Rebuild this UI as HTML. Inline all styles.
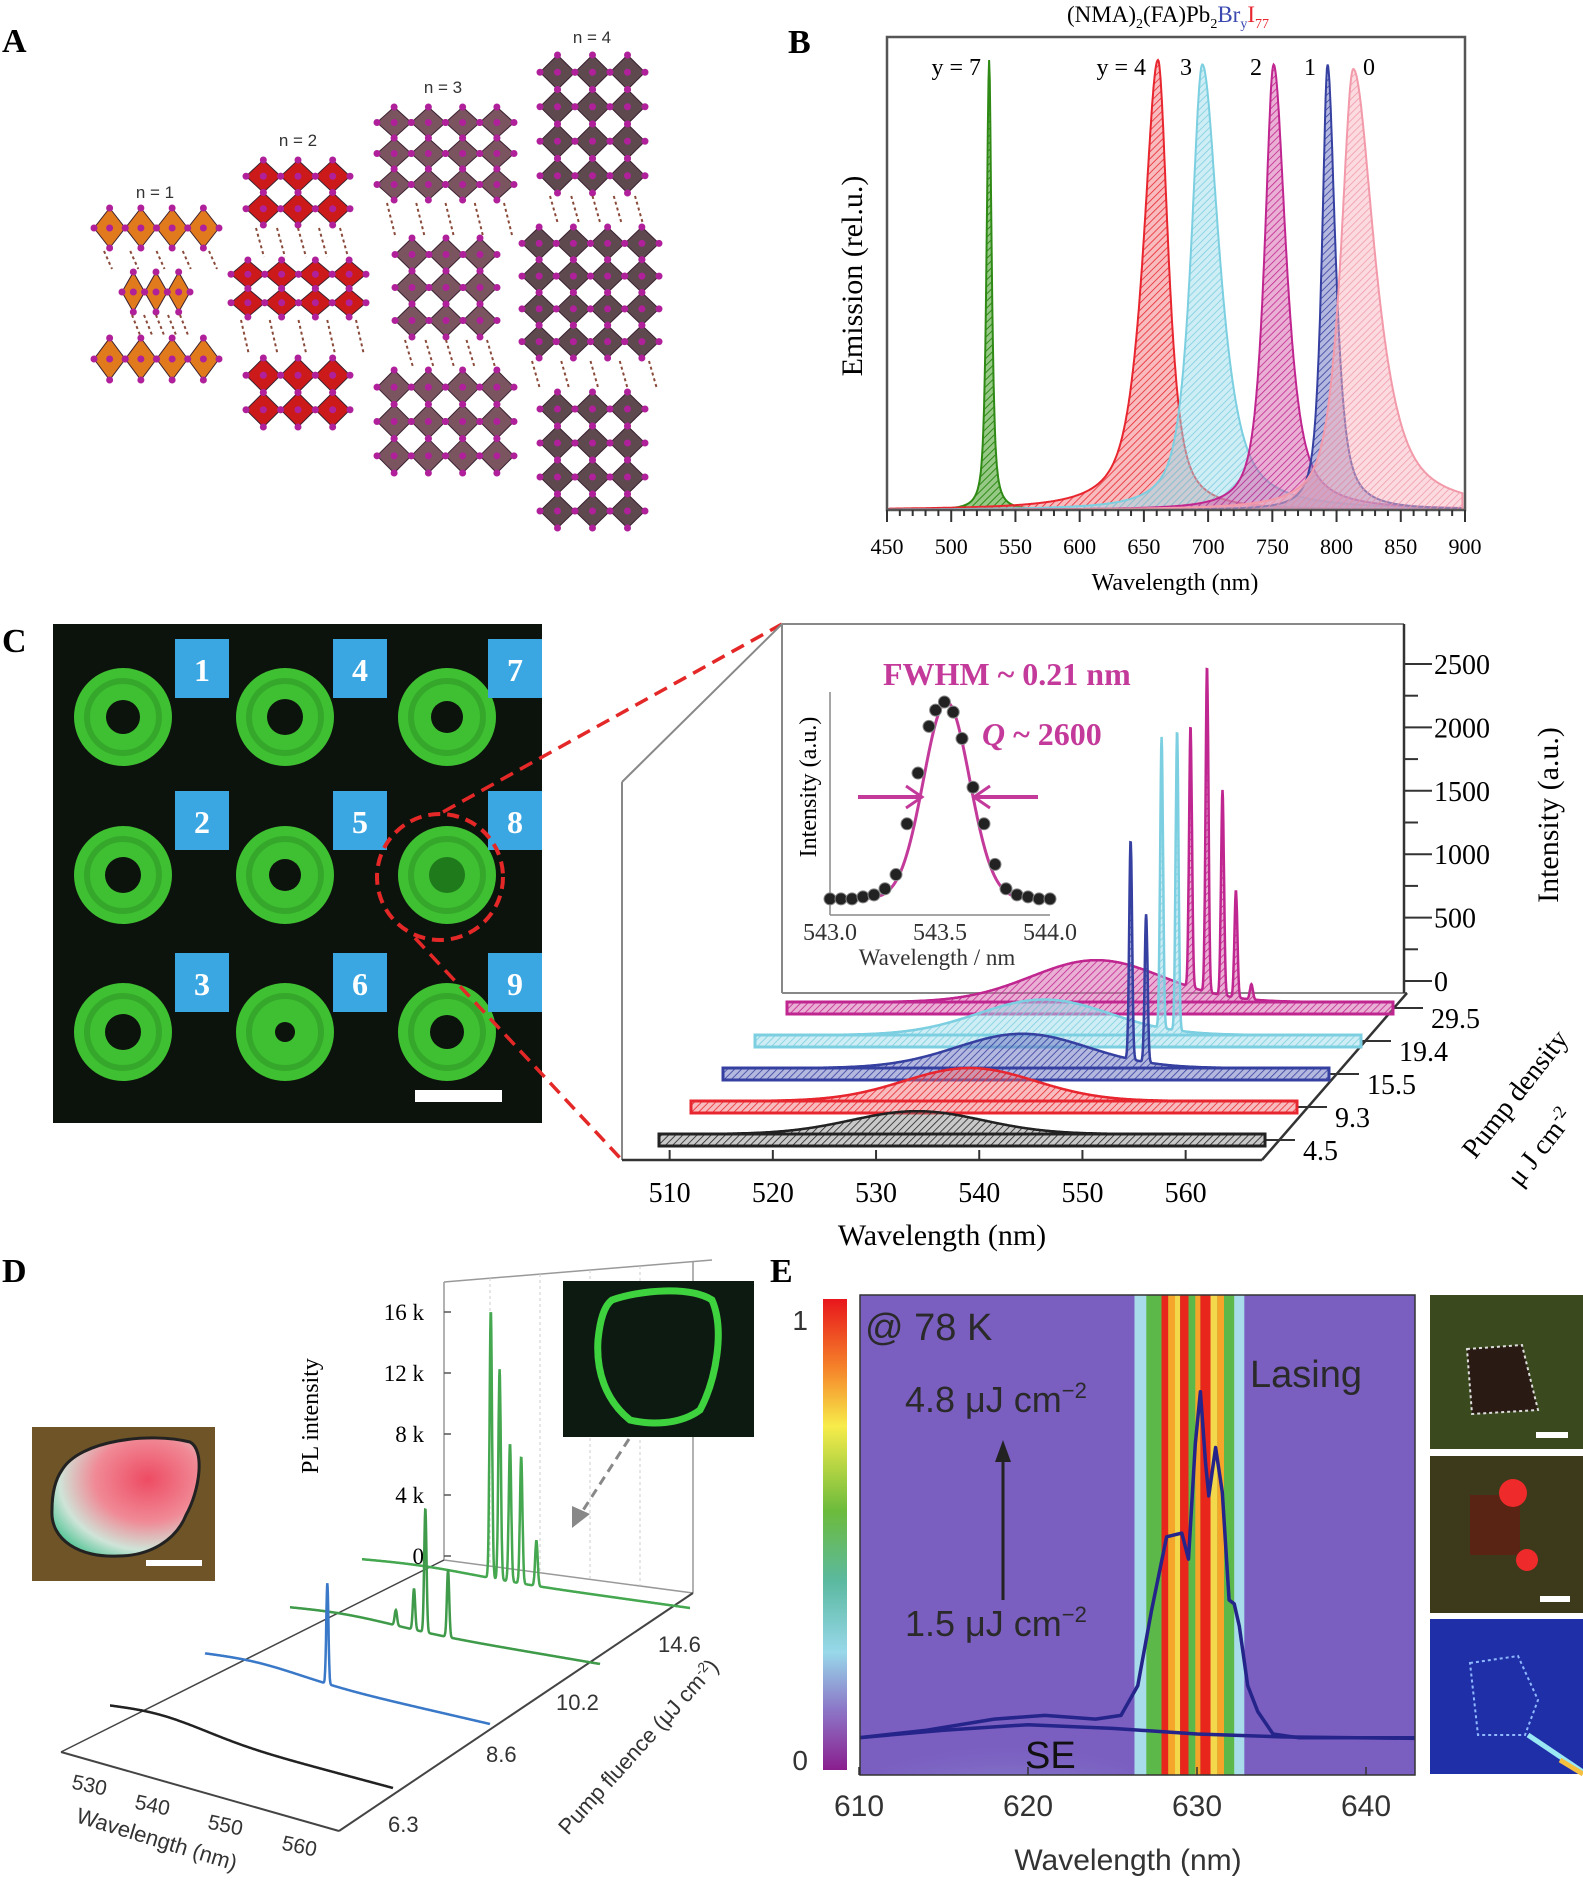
<!DOCTYPE html>
<html><head><meta charset="utf-8">
<style>
html,body{margin:0;padding:0;background:#fff;}
svg{display:block;}
.serif{font-family:"Liberation Serif",serif;}
.sans{font-family:"Liberation Sans",sans-serif;}
</style></head>
<body>
<svg id="fig" width="1583" height="1885" viewBox="0 0 1583 1885" xmlns="http://www.w3.org/2000/svg">
<defs>
  <pattern id="pat-g" width="5" height="5" patternUnits="userSpaceOnUse" patternTransform="rotate(45)"><rect width="5" height="5" fill="#3f9b22" opacity="0.55"/><line x1="0" y1="0" x2="0" y2="5" stroke="#2f8a15" stroke-width="2"/></pattern>
  <pattern id="pat-r" width="5" height="5" patternUnits="userSpaceOnUse" patternTransform="rotate(45)"><rect width="5" height="5" fill="#f06b70" opacity="0.45"/><line x1="0" y1="0" x2="0" y2="5" stroke="#e8262f" stroke-width="1.6"/></pattern>
  <pattern id="pat-c" width="5" height="5" patternUnits="userSpaceOnUse" patternTransform="rotate(45)"><rect width="5" height="5" fill="#9fdcea" opacity="0.5"/><line x1="0" y1="0" x2="0" y2="5" stroke="#7ccfe0" stroke-width="1.6"/></pattern>
  <pattern id="pat-m" width="5" height="5" patternUnits="userSpaceOnUse" patternTransform="rotate(45)"><rect width="5" height="5" fill="#d560aa" opacity="0.5"/><line x1="0" y1="0" x2="0" y2="5" stroke="#c0268f" stroke-width="1.6"/></pattern>
  <pattern id="pat-b" width="5" height="5" patternUnits="userSpaceOnUse" patternTransform="rotate(45)"><rect width="5" height="5" fill="#6a72c0" opacity="0.5"/><line x1="0" y1="0" x2="0" y2="5" stroke="#3540a0" stroke-width="1.6"/></pattern>
  <pattern id="pat-p" width="5" height="5" patternUnits="userSpaceOnUse" patternTransform="rotate(45)"><rect width="5" height="5" fill="#f7b8c2" opacity="0.5"/><line x1="0" y1="0" x2="0" y2="5" stroke="#f29aaa" stroke-width="1.6"/></pattern>
  <pattern id="pat-k" width="5" height="5" patternUnits="userSpaceOnUse" patternTransform="rotate(45)"><rect width="5" height="5" fill="#777" opacity="0.4"/><line x1="0" y1="0" x2="0" y2="5" stroke="#222" stroke-width="1.6"/></pattern>
  <linearGradient id="cbar" x1="0" y1="0" x2="0" y2="1">
    <stop offset="0" stop-color="#e8161c"/><stop offset="0.15" stop-color="#f5862a"/><stop offset="0.27" stop-color="#f7ec4a"/>
    <stop offset="0.45" stop-color="#6cbb3c"/><stop offset="0.6" stop-color="#5bb9a0"/><stop offset="0.75" stop-color="#98d8ea"/>
    <stop offset="0.87" stop-color="#8c78c8"/><stop offset="1" stop-color="#8a1e8e"/>
  </linearGradient>
  <radialGradient id="glow" cx="0.5" cy="1" r="0.7">
    <stop offset="0" stop-color="#bfe8f2"/><stop offset="0.6" stop-color="#a9d6ee" stop-opacity="0.7"/><stop offset="1" stop-color="#7a5ec0" stop-opacity="0"/>
  </radialGradient>
  <radialGradient id="blob" cx="0.65" cy="0.35" r="0.8">
    <stop offset="0" stop-color="#ee4b63"/><stop offset="0.45" stop-color="#f08a96"/><stop offset="0.75" stop-color="#cfe4d8"/><stop offset="1" stop-color="#3dbf8a"/>
  </radialGradient>
</defs>

<g id="panelA">
  <text x="2" y="52" class="serif" font-size="34" font-weight="bold">A</text>
  <g id="structs"></g>
</g>

<g id="panelB">
  <text x="788" y="53" class="serif" font-size="34" font-weight="bold">B</text>
  <text x="1067" y="22" class="serif" font-size="23">(NMA)<tspan font-size="14" dy="6">2</tspan><tspan dy="-6">(FA)Pb</tspan><tspan font-size="14" dy="6">2</tspan><tspan dy="-6" fill="#3a48b0">Br</tspan><tspan font-size="14" dy="6" fill="#3a48b0">y</tspan><tspan dy="-6" fill="#e8262f">I</tspan><tspan font-size="14" dy="6" fill="#e8262f">77</tspan></text>
  <g id="bcurves"></g>
  <rect x="887" y="37" width="578" height="473" fill="none" stroke="#555" stroke-width="2.5"/>
  <g id="baxis"></g>
  <text x="1175" y="590" text-anchor="middle" class="serif" font-size="24">Wavelength (nm)</text>
  <text transform="translate(862,276) rotate(-90)" text-anchor="middle" class="serif" font-size="30">Emission (rel.u.)</text>
  <g class="serif" font-size="24">
    <text x="981" y="75" text-anchor="end">y = 7</text>
    <text x="1146" y="75" text-anchor="end">y = 4</text>
    <text x="1192" y="75" text-anchor="end">3</text>
    <text x="1262" y="75" text-anchor="end">2</text>
    <text x="1316" y="75" text-anchor="end">1</text>
    <text x="1363" y="75">0</text>
  </g>
</g>

<g id="panelC">
  <text x="2" y="652" class="serif" font-size="34" font-weight="bold">C</text>
  <rect x="53" y="624" width="489" height="499" fill="#0c130c"/>
  <g id="rings"></g>
  <rect x="415" y="1090" width="87" height="12" fill="#fff"/>
  <circle cx="440" cy="877" r="63" fill="none" stroke="#e42828" stroke-width="4" stroke-dasharray="12 7"/>
  <line x1="443" y1="812" x2="782" y2="624" stroke="#e42828" stroke-width="3.5" stroke-dasharray="14 8"/>
  <line x1="415" y1="938" x2="622" y2="1160" stroke="#e42828" stroke-width="3.5" stroke-dasharray="14 8"/>
  <g stroke="#888" stroke-width="2" fill="none">
    <line x1="782" y1="624" x2="1404" y2="624"/>
    <line x1="782" y1="624" x2="782" y2="993"/>
    <line x1="782" y1="624" x2="622" y2="782"/>
    <line x1="622" y1="782" x2="622" y2="1160"/>
    <line x1="782" y1="993" x2="1407" y2="993"/>
  </g>
  <line x1="622" y1="1160" x2="1262" y2="1160" stroke="#333" stroke-width="2.5"/>
  <line x1="1262" y1="1160" x2="1407" y2="993" stroke="#333" stroke-width="2.5"/>
  <line x1="1404" y1="624" x2="1404" y2="993" stroke="#333" stroke-width="2.5"/>
  <g id="caxis"></g>
  <g id="ccurves"></g>
  <g id="cinset"></g>
  <text x="942" y="1245" text-anchor="middle" class="serif" font-size="30">Wavelength (nm)</text>
  <text transform="translate(1558,815) rotate(-90)" text-anchor="middle" class="serif" font-size="30">Intensity (a.u.)</text>
  <text transform="translate(1475,1160) rotate(-52)" class="serif" font-size="28">Pump density</text>
  <text transform="translate(1520,1188) rotate(-52)" class="serif" font-size="28">μ J cm<tspan font-size="18" dy="-10">-2</tspan></text>
</g>

<g id="panelD">
  <text x="2" y="1282" class="serif" font-size="34" font-weight="bold">D</text>
  <rect x="32" y="1427" width="183" height="154" fill="#6e5426"/>
  <path d="M62,1470 C80,1440 150,1432 190,1442 C205,1450 200,1490 186,1515 C176,1540 150,1556 118,1556 C80,1558 50,1540 52,1510 C52,1495 55,1480 62,1470 Z" fill="url(#blob)" stroke="#222" stroke-width="3"/>
  <rect x="146" y="1560" width="56" height="6" fill="#fff"/>
  <g stroke="#999" stroke-width="1.5" fill="none">
    <line x1="444" y1="1282" x2="712" y2="1260"/>
    <line x1="444" y1="1282" x2="444" y2="1560"/>
    <line x1="693" y1="1262" x2="693" y2="1593"/>
    <line x1="444" y1="1560" x2="693" y2="1593"/>
  </g>
  <g stroke="#ccc" stroke-width="1" stroke-dasharray="3 3" fill="none">
    <line x1="490" y1="1278" x2="490" y2="1566"/><line x1="540" y1="1274" x2="540" y2="1573"/>
    <line x1="590" y1="1270" x2="590" y2="1579"/><line x1="640" y1="1266" x2="640" y2="1586"/>
  </g>
  <line x1="61" y1="1752" x2="444" y2="1560" stroke="#444" stroke-width="1.5"/>
  <line x1="61" y1="1752" x2="339" y2="1831" stroke="#444" stroke-width="2"/>
  <line x1="339" y1="1831" x2="693" y2="1593" stroke="#444" stroke-width="2"/>
  <g id="daxis"></g>
  <g id="dcurves"></g>
  <rect x="563" y="1281" width="191" height="156" fill="#0d1a12"/>
  <path d="M612,1300 C640,1290 690,1286 712,1300 C725,1330 716,1380 700,1410 C680,1425 650,1425 630,1420 C605,1400 596,1370 598,1340 C600,1320 604,1306 612,1300 Z" fill="none" stroke="#3fd23f" stroke-width="7"/>
  <line x1="629" y1="1439" x2="580" y2="1515" stroke="#888" stroke-width="3" stroke-dasharray="9 6"/>
  <polygon points="572,1528 572,1506 590,1514" fill="#888"/>
  <text transform="translate(318,1416) rotate(-90)" text-anchor="middle" class="serif" font-size="24">PL intensity</text>
  <text transform="translate(75,1822) rotate(17)" class="sans" font-size="22" fill="#333">Wavelength (nm)</text>
  <text transform="translate(568,1836) rotate(-48)" class="sans" font-size="22" fill="#333">Pump fluence (μJ cm<tspan font-size="14" dy="-8">-2</tspan><tspan dy="8">)</tspan></text>
</g>

<g id="panelE">
  <text x="770" y="1282" class="serif" font-size="34" font-weight="bold">E</text>
  <rect x="823" y="1299" width="24" height="471" fill="url(#cbar)"/>
  <text x="808" y="1330" text-anchor="end" class="sans" font-size="28" fill="#333">1</text>
  <text x="808" y="1770" text-anchor="end" class="sans" font-size="28" fill="#333">0</text>
  <svg x="860" y="1295" width="555" height="480" viewBox="860 1295 555 480" overflow="hidden">
    <rect x="860" y="1295" width="555" height="480" fill="#7a5ec0"/>
    <ellipse cx="1010" cy="1800" rx="220" ry="160" fill="url(#glow)"/>
    <g id="heatstripes"></g>
    <g id="ecurves"></g>
  </svg>
  <rect x="860" y="1295" width="555" height="480" fill="none" stroke="#333" stroke-width="1.5"/>
  <g id="eaxis"></g>
  <text x="1128" y="1870" text-anchor="middle" class="sans" font-size="30" fill="#333">Wavelength (nm)</text>
  <text x="865" y="1340" class="sans" font-size="38" fill="#2a2a2a">@ 78 K</text>
  <text x="1250" y="1387" class="sans" font-size="38" fill="#2a2a2a">Lasing</text>
  <text x="905" y="1412" class="sans" font-size="36" fill="#2a2a2a">4.8 μJ cm<tspan font-size="22" dy="-14">−2</tspan></text>
  <text x="905" y="1636" class="sans" font-size="36" fill="#2a2a2a">1.5 μJ cm<tspan font-size="22" dy="-14">−2</tspan></text>
  <line x1="1003" y1="1600" x2="1003" y2="1455" stroke="#222" stroke-width="3"/>
  <polygon points="995,1462 1011,1462 1003,1440" fill="#222"/>
  <text x="1025" y="1768" class="sans" font-size="38" fill="#111">SE</text>
  <rect x="1430" y="1295" width="153" height="154" fill="#3a4a1e"/>
  <polygon points="1467,1349 1522,1345 1538,1410 1472,1414" fill="#2a1a14" stroke="#ddd" stroke-width="2" stroke-dasharray="3 3"/>
  <rect x="1536" y="1432" width="32" height="6" fill="#fff"/>
  <rect x="1430" y="1456" width="153" height="157" fill="#3d3a1c"/>
  <rect x="1470" y="1495" width="50" height="60" fill="#5a2415"/>
  <circle cx="1513" cy="1493" r="14" fill="#ef2a2a"/><circle cx="1527" cy="1560" r="11" fill="#ef2a2a"/>
  <rect x="1540" y="1596" width="30" height="6" fill="#fff"/>
  <rect x="1430" y="1619" width="153" height="155" fill="#1f2fa8"/>
  <polygon points="1470,1663 1518,1656 1538,1700 1525,1735 1478,1735" fill="none" stroke="#8fb8ff" stroke-width="2" stroke-dasharray="3 3"/>
  <line x1="1528" y1="1735" x2="1583" y2="1772" stroke="#9be8f5" stroke-width="5"/>
  <line x1="1560" y1="1760" x2="1583" y2="1774" stroke="#f5c040" stroke-width="5"/>
</g>
</svg>

<script>
var NS = "http://www.w3.org/2000/svg";
function mk(tag, attrs, parent) {
  var e = document.createElementNS(NS, tag);
  for (var k in attrs) { e.setAttribute(k, String(attrs[k])); }
  parent.appendChild(e);
  return e;
}
</script>

<script>
/* Panel A data */
var aLabels = ["n = 1", "n = 2", "n = 3", "n = 4"];
var aColors = ["#e07a1c", "#cc1a1a", "#7a5560", "#5e4a4e"];
var aSlabCols = [[4, 3, 4], [3, 4, 3], [4, 3, 4], [3, 4, 3]];
var aSlabRows = [1, 2, 3, 4];
try {
  var aLabelPos = [[155, 198], [298, 146], [443, 93], [592, 43]];
  var aBoxes = [
    [[94, 208, 219, 248], [122, 272, 190, 312], [94, 338, 219, 380]],
    [[246, 160, 350, 225], [231, 260, 366, 317], [246, 358, 350, 427]],
    [[377, 107, 514, 200], [395, 238, 497, 337], [377, 370, 514, 473]],
    [[540, 55, 645, 193], [522, 227, 659, 358], [540, 392, 645, 528]]
  ];
  var sg = document.getElementById('structs');
  for (var s = 0; s < 4; s++) {
    var lab = mk('text', {x: aLabelPos[s][0], y: aLabelPos[s][1], 'text-anchor': 'middle', 'font-family': 'Liberation Sans, sans-serif', 'font-size': 17, fill: '#333'}, sg);
    lab.textContent = aLabels[s];
    
    
    for (var j = 0; j < 3; j++) {
      var bx = aBoxes[s][j];
      var nc = aSlabCols[s][j], nr = aSlabRows[s];
      var cw = (bx[2] - bx[0]) / nc, chh = (bx[3] - bx[1]) / nr;
      for (var ci = 0; ci < nc; ci++) {
        for (var ri = 0; ri < nr; ri++) {
          var ox = bx[0] + cw * (ci + 0.5), oy = bx[1] + chh * (ri + 0.5);
          var poly = mk('polygon', {points: ox + ',' + (oy - chh / 2) + ' ' + (ox + cw / 2) + ',' + oy + ' ' + ox + ',' + (oy + chh / 2) + ' ' + (ox - cw / 2) + ',' + oy, fill: aColors[s], stroke: '#3a2030', 'stroke-width': 1}, sg);
          
          
          mk('circle', {cx: ox, cy: oy, r: 3.5, fill: '#b0209a'}, sg);
          mk('circle', {cx: ox, cy: oy - chh / 2, r: 3.5, fill: '#b0209a'}, sg);
          mk('circle', {cx: ox - cw / 2, cy: oy, r: 3.5, fill: '#b0209a'}, sg);
          mk('circle', {cx: ox + cw / 2, cy: oy, r: 3.5, fill: '#b0209a'}, sg);
          mk('circle', {cx: ox, cy: oy + chh / 2, r: 3.5, fill: '#b0209a'}, sg);
        }
      }
      if (j < 2) {
        var nb = aBoxes[s][j + 1];
        for (var q = 0; q < 5; q++) {
          var lx = bx[0] + 10 + q * (bx[2] - bx[0] - 20) / 4;
          mk('line', {x1: lx, y1: bx[3] + 3, x2: lx + 8, y2: nb[1] - 3, stroke: '#8a4a3a', 'stroke-width': 2, 'stroke-dasharray': '3 3'}, sg);
        }
      }
    }
  }
} catch (err) { console.log('A', err); }
</script>

<script>
/* Panel B data */
var bSeries = ["y7", "y4", "y3", "y2", "y1", "y0"];
var bCenters = [529.5, 661, 695.5, 751, 793, 813];
var bGamL = [2.2, 13, 10, 8, 5, 11];
var bGamR = [2.2, 9, 15, 11, 7, 19];
var bHeights = [1, 1, 0.99, 0.99, 0.99, 0.98];
var bTicks = [450, 500, 550, 600, 650, 700, 750, 800, 850, 900];
try {
  var bStroke = ["#2f8a15", "#e8262f", "#7ccfe0", "#c0268f", "#3540a0", "#f29aaa"];
  var bFill = ["url(#pat-g)", "url(#pat-r)", "url(#pat-c)", "url(#pat-m)", "url(#pat-b)", "url(#pat-p)"];
  var xB = function (w) { return 887 + (w - 450) * 578 / 450; };
  var yB = function (v) { return 510 - v * 450; };
  var bg = document.getElementById('bcurves');
  for (var i = 0; i < bSeries.length; i++) {
    var d = 'M' + xB(450) + ',' + yB(0);
    for (var w = 452; w <= 898; w += 0.5) {
      var g = w < bCenters[i] ? bGamL[i] : bGamR[i];
      var u = (w - bCenters[i]) / g;
      var v = 0.8 * bHeights[i] / (1 + u * u) + 0.2 * bHeights[i] * Math.exp(-u * u * 0.5);
      d += ' L' + xB(w).toFixed(1) + ',' + yB(v).toFixed(1);
    }
    d += ' L' + xB(898) + ',' + yB(0) + ' Z';
    var p = mk('path', {d: d, fill: bFill[i], stroke: bStroke[i], 'stroke-width': 2}, bg);
    
    
  }
  var ba = document.getElementById('baxis');
  for (var tk = 450; tk <= 900; tk += 10) {
    mk('line', {x1: xB(tk), y1: 510, x2: xB(tk), y2: (tk % 50 === 0 ? 522 : 516), stroke: '#333', 'stroke-width': 2}, ba);
  }
  for (var i2 = 0; i2 < bTicks.length; i2++) {
    var tx = mk('text', {x: xB(bTicks[i2]), y: 554, 'text-anchor': 'middle', 'font-family': 'Liberation Serif, serif', 'font-size': 22}, ba);
    tx.textContent = String(bTicks[i2]);
    
    
  }
} catch (err) { console.log('B', err); }
</script>

<script>
/* Panel C data */
var cPump = ["4.5", "9.3", "15.5", "19.4", "29.5"];
var cHumpH = [180, 260, 270, 280, 330];
var cHumpC = [533, 535, 537, 536, 538];
var cPeakWl = [[], [], [547.5, 549.0], [547.4, 548.9], [547.1, 548.7, 550.2, 551.5, 553.0]];
var cPeakH = [[], [], [1727, 1167], [2295, 2365], [2060, 2570, 1620, 845, 120]];
var cXTicks = [510, 520, 530, 540, 550, 560];
var cYTicks = [0, 500, 1000, 1500, 2000, 2500];
var inWl = [543.0, 543.05, 543.1, 543.15, 543.2, 543.25, 543.3, 543.35, 543.4, 543.45, 543.48, 543.52, 543.56, 543.6, 543.65, 543.7, 543.75, 543.8, 543.85, 543.9, 543.95, 544.0];
var inVal = [0.03, 0.03, 0.03, 0.04, 0.05, 0.08, 0.15, 0.4, 0.65, 0.88, 0.96, 1.0, 0.95, 0.82, 0.58, 0.4, 0.2, 0.08, 0.05, 0.04, 0.03, 0.03];
var inTicks = ["543.0", "543.5", "544.0"];
try {
  var rg = document.getElementById('rings');
  var ringX = [123, 285, 447], ringY = [717, 875, 1032];
  var boxX = [175, 333, 488], boxY = [639, 791, 953];
  var ringInner = [[17, 18, 18], [18, 16, 10], [16, 18, 17]];
  for (var c1 = 0; c1 < 3; c1++) {
    for (var r1 = 0; r1 < 3; r1++) {
      var rc = mk('circle', {cx: ringX[c1], cy: ringY[r1], r: 49, fill: '#3fbf32'}, rg);
      
      
      mk('circle', {cx: ringX[c1], cy: ringY[r1], r: 36, fill: 'none', stroke: '#2e9a26', 'stroke-width': 6, opacity: 0.6}, rg);
      mk('circle', {cx: ringX[c1], cy: ringY[r1], r: ringInner[c1][r1], fill: (c1 === 2 && r1 === 1) ? '#1f7a1c' : '#0c130c'}, rg);
      var nbx = mk('rect', {x: boxX[c1], y: boxY[r1], width: 54, height: 59, fill: '#3aa7e2'}, rg);
      
      
      var nt = mk('text', {x: boxX[c1] + 27, y: boxY[r1] + 42, 'text-anchor': 'middle', 'font-family': 'Liberation Serif, serif', 'font-size': 32, 'font-weight': 'bold', fill: '#fff'}, rg);
      nt.textContent = String(c1 * 3 + r1 + 1);
    }
  }
} catch (err) { console.log('C1', err); }
try {
  var cColors = ["#222222", "#e8262f", "#3540a0", "#7ccfe0", "#c0268f"];
  var cFills = ["url(#pat-k)", "url(#pat-r)", "url(#pat-b)", "url(#pat-c)", "url(#pat-m)"];
  var cK = 0.1268, cPx = 10.32;
  var cX0 = function (k) { return 659 + 32 * k; };
  var cYb = function (k) { return 1140 - 33 * k; };
  var xC = function (k, w) { return cX0(k) + (w - 508) * cPx; };
  var yC = function (k, v) { return cYb(k) - 6 - v * cK; };
  var cc = document.getElementById('ccurves');
  for (var k = 4; k >= 0; k--) {
    var d = 'M' + xC(k, 508) + ',' + yC(k, 0);
    for (var w = 508; w <= 566.6; w += 0.04) {
      var v = cHumpH[k] * Math.exp(-Math.pow((w - cHumpC[k]) / 9, 2));
      for (var j = 0; j < cPeakWl[k].length; j++) { v += cPeakH[k][j] * Math.exp(-Math.pow((w - cPeakWl[k][j]) / 0.2, 2)); }
      d += ' L' + xC(k, w).toFixed(1) + ',' + yC(k, v).toFixed(1);
    }
    d += ' L' + xC(k, 566.6) + ',' + yC(k, 0) + ' Z';
    var strip = mk('rect', {x: xC(k, 508), y: cYb(k) - 6, width: 606, height: 12, fill: cFills[k], stroke: cColors[k], 'stroke-width': 3}, cc);
    
    
    var p = mk('path', {d: d, fill: cFills[k], stroke: cColors[k], 'stroke-width': 2.5}, cc);
    
    
  }
  var ca = document.getElementById('caxis');
  for (var i = 0; i < cXTicks.length; i++) {
    var xx = xC(0, cXTicks[i]) - 10;
    mk('line', {x1: xx, y1: 1160, x2: xx, y2: 1150, stroke: '#333', 'stroke-width': 2}, ca);
    var tx = mk('text', {x: xx, y: 1202, 'text-anchor': 'middle', 'font-family': 'Liberation Serif, serif', 'font-size': 28}, ca);
    tx.textContent = String(cXTicks[i]);
    
    
  }
  for (var i3 = 0; i3 < cYTicks.length; i3++) {
    var yy = 981 - cYTicks[i3] * cK;
    mk('line', {x1: 1404, y1: yy, x2: 1432, y2: yy, stroke: '#333', 'stroke-width': 2}, ca);
    if (i3 < 5) { mk('line', {x1: 1404, y1: yy - 31.7, x2: 1418, y2: yy - 31.7, stroke: '#333', 'stroke-width': 2}, ca); }
    var ty = mk('text', {x: 1434, y: yy + 10, 'font-family': 'Liberation Serif, serif', 'font-size': 28}, ca);
    ty.textContent = String(cYTicks[i3]);
    
    
  }
  for (var k2 = 0; k2 < 5; k2++) {
    var ex = xC(k2, 508) + 606, ey = cYb(k2);
    mk('line', {x1: ex, y1: ey, x2: ex + 30, y2: ey, stroke: '#333', 'stroke-width': 2}, ca);
    var tp = mk('text', {x: ex + 38, y: ey + 20, 'font-family': 'Liberation Serif, serif', 'font-size': 28}, ca);
    tp.textContent = cPump[k2];
    
    
  }
} catch (err) { console.log('C2', err); }
try {
  var xI = function (w) { return 830 + (w - 543) * 220; };
  var yI = function (v) { return 905 - v * 203; };
  var cin = document.getElementById('cinset');
  mk('line', {x1: 830, y1: 692, x2: 830, y2: 915, stroke: '#888', 'stroke-width': 1.5}, cin);
  mk('line', {x1: 830, y1: 915, x2: 1050, y2: 915, stroke: '#888', 'stroke-width': 1.5}, cin);
  var fd = '';
  for (var w2 = 543; w2 <= 544.001; w2 += 0.005) {
    var fv = 0.03 + 0.97 * Math.exp(-Math.pow((w2 - 543.53) / 0.105, 2) / 2);
    fd += (fd ? ' L' : 'M') + xI(w2).toFixed(1) + ',' + yI(fv).toFixed(1);
  }
  var fp = mk('path', {d: fd, fill: 'none', stroke: '#c43a9a', 'stroke-width': 3}, cin);
  
  
  for (var i4 = 0; i4 < inWl.length; i4++) {
    var dot = mk('circle', {cx: xI(inWl[i4]), cy: yI(inVal[i4]), r: 6, fill: '#222', stroke: '#888', 'stroke-width': 1}, cin);
    
    
  }
  for (var i5 = 0; i5 < inTicks.length; i5++) {
    var it = mk('text', {x: xI(parseFloat(inTicks[i5])), y: 940, 'text-anchor': 'middle', 'font-family': 'Liberation Serif, serif', 'font-size': 24, fill: '#333'}, cin);
    it.textContent = inTicks[i5];
    
    
  }
  var t1 = mk('text', {x: 937, y: 965, 'text-anchor': 'middle', 'font-family': 'Liberation Serif, serif', 'font-size': 23, fill: '#333'}, cin);
  t1.textContent = 'Wavelength / nm';
  
  
  var t2 = mk('text', {transform: 'translate(816,787) rotate(-90)', 'text-anchor': 'middle', 'font-family': 'Liberation Serif, serif', 'font-size': 24}, cin);
  t2.textContent = 'Intensity (a.u.)';
  
  
  var t3 = mk('text', {x: 883, y: 685, 'font-family': 'Liberation Serif, serif', 'font-size': 32, 'font-weight': 'bold', fill: '#c43a9a'}, cin);
  t3.textContent = 'FWHM  ~ 0.21 nm';
  
  
  var t4 = mk('text', {x: 982, y: 745, 'font-family': 'Liberation Serif, serif', 'font-size': 32, 'font-weight': 'bold', fill: '#c43a9a'}, cin);
  
  
  var tq = mk('tspan', {'font-style': 'italic'}, t4);
  tq.textContent = 'Q';
  var tq2 = mk('tspan', {}, t4);
  tq2.textContent = ' ~ 2600';
  mk('line', {x1: 858, y1: 797, x2: 920, y2: 797, stroke: '#c43a9a', 'stroke-width': 4}, cin);
  mk('polyline', {points: '906,786 922,797 906,808', fill: 'none', stroke: '#c43a9a', 'stroke-width': 3}, cin);
  mk('line', {x1: 1038, y1: 797, x2: 976, y2: 797, stroke: '#c43a9a', 'stroke-width': 4}, cin);
  mk('polyline', {points: '990,786 974,797 990,808', fill: 'none', stroke: '#c43a9a', 'stroke-width': 3}, cin);
} catch (err) { console.log('C3', err); }
</script>

<script>
/* Panel D data */
var dFluence = ["6.3", "8.6", "10.2", "14.6"];
var dHump = [700, 500, 400, 300];
var dPeakWl = [[], [542.6], [539.0, 541.4, 542.9, 545.9], [541.1, 542.2, 543.5, 544.9, 546.8]];
var dPeakH = [[], [6600], [1000, 2700, 8100, 4400], [17500, 13800, 9000, 8300, 3000]];
var dYTicks = ["0", "4 k", "8 k", "12 k", "16 k"];
var dYVals = [0, 4000, 8000, 12000, 16000];
var dXTicks = ["530", "540", "550", "560"];
try {
  var dColors = ["#222222", "#3a78c8", "#3f9a4a", "#45a850"];
  var dStart = [[110, 1712], [205, 1658], [290, 1611], [362, 1562]];
  var dEnd = [[393, 1788], [490, 1724], [600, 1664], [690, 1608]];
  var dXPos = [[88, 1792], [151, 1812], [224, 1832], [298, 1853]];
  var dFPos = [[388, 1832], [486, 1762], [556, 1710], [658, 1652]];
  var dK = 0.01525;
  var dc = document.getElementById('dcurves');
  for (var k = 3; k >= 0; k--) {
    var d = '';
    for (var w = 525; w <= 566; w += 0.04) {
      var f = (w - 525) / 41;
      var x = dStart[k][0] + f * (dEnd[k][0] - dStart[k][0]);
      var yb = dStart[k][1] + f * (dEnd[k][1] - dStart[k][1]);
      var v = dHump[k] * Math.exp(-Math.pow((w - 532) / 10, 2));
      for (var j = 0; j < dPeakWl[k].length; j++) { v += dPeakH[k][j] * Math.exp(-Math.pow((w - dPeakWl[k][j]) / 0.22, 2)); }
      d += (d ? ' L' : 'M') + x.toFixed(1) + ',' + (yb - v * dK).toFixed(1);
    }
    var p = mk('path', {d: d, fill: 'none', stroke: dColors[k], 'stroke-width': 2.5}, dc);
    
    
  }
  var da = document.getElementById('daxis');
  for (var i = 0; i < dYTicks.length; i++) {
    var yy = 1556 - dYVals[i] * dK;
    mk('line', {x1: 444, y1: yy, x2: 451, y2: yy, stroke: '#555', 'stroke-width': 1.5}, da);
    var ty = mk('text', {x: 424, y: yy + 8, 'text-anchor': 'end', 'font-family': 'Liberation Serif, serif', 'font-size': 23}, da);
    ty.textContent = dYTicks[i];
    
    
  }
  for (var i2 = 0; i2 < dXTicks.length; i2++) {
    var tx = mk('text', {x: dXPos[i2][0], y: dXPos[i2][1], 'text-anchor': 'middle', 'font-family': 'Liberation Sans, sans-serif', 'font-size': 21, fill: '#333', transform: 'rotate(12 ' + dXPos[i2][0] + ' ' + dXPos[i2][1] + ')'}, da);
    tx.textContent = dXTicks[i2];
    
    
  }
  for (var i3 = 0; i3 < dFluence.length; i3++) {
    var tf = mk('text', {x: dFPos[i3][0], y: dFPos[i3][1], 'font-family': 'Liberation Sans, sans-serif', 'font-size': 22, fill: '#333'}, da);
    tf.textContent = dFluence[i3];
    
    
  }
} catch (err) { console.log('D', err); }
</script>

<script>
/* Panel E data */
var eStripeWl = [626.3, 627.0, 627.9, 628.3, 628.7, 629.0, 629.5, 629.9, 630.2, 630.8, 631.2, 631.6];
var eStripeW = [6.5, 5.2, 0.4, 0.4, 0.3, 0.5, 0.4, 0.3, 0.6, 0.4, 0.4, 0.5];
var eStripeC = ["#a8dcea", "#5cb848", "#e8261c", "#f5a62a", "#f2d84a", "#e8261c", "#5cb848", "#f5a62a", "#e8261c", "#f2d84a", "#f5a62a", "#5cb848"];
var eHighWl = [610, 614, 618, 621, 624, 625.5, 626.5, 627.3, 628.2, 629.1, 629.5, 629.9, 630.2, 630.5, 630.7, 631.1, 631.5, 631.9, 632.2, 632.5, 633.0, 633.6, 634.5, 636, 643];
var eHighV = [0.06, 0.08, 0.11, 0.12, 0.11, 0.12, 0.2, 0.4, 0.6, 0.61, 0.54, 0.85, 0.99, 0.8, 0.71, 0.84, 0.72, 0.43, 0.42, 0.36, 0.2, 0.13, 0.07, 0.06, 0.06];
var eLowWl = [610, 615, 620, 625, 630, 635, 643];
var eLowV = [0.06, 0.08, 0.095, 0.085, 0.07, 0.062, 0.058];
var eTicks = [610, 620, 630, 640];
try {
  var xE = function (w) { return 859 + (w - 610) * 16.9; };
  var yE = function (v) { return 1760 - v * 372; };
  var hs = document.getElementById('heatstripes');
  for (var i = 0; i < eStripeWl.length; i++) {
    var r = mk('rect', {x: xE(eStripeWl[i]), y: 1295, width: eStripeW[i] * 16.9, height: 480, fill: eStripeC[i]}, hs);
    
    
  }
  var ec = document.getElementById('ecurves');
  var drawLine = function (ws, vs, name) {
    var d = '';
    for (var m = 0; m < ws.length; m++) { d += (m ? ' L' : 'M') + xE(ws[m]).toFixed(1) + ',' + yE(vs[m]).toFixed(1); }
    var p = mk('path', {d: d, fill: 'none', stroke: '#24248a', 'stroke-width': 3.5, 'stroke-linejoin': 'round'}, ec);
    
    
  };
  drawLine(eLowWl, eLowV, 'spectrum-low-fluence');
  drawLine(eHighWl, eHighV, 'spectrum-high-fluence');
  var ea = document.getElementById('eaxis');
  for (var i2 = 0; i2 < eTicks.length; i2++) {
    mk('line', {x1: xE(eTicks[i2]), y1: 1775, x2: xE(eTicks[i2]), y2: 1767, stroke: '#333', 'stroke-width': 1.5}, ea);
    var tx = mk('text', {x: xE(eTicks[i2]), y: 1816, 'text-anchor': 'middle', 'font-family': 'Liberation Sans, sans-serif', 'font-size': 30, fill: '#333'}, ea);
    tx.textContent = String(eTicks[i2]);
    
    
  }
} catch (err) { console.log('E', err); }
</script>
</body></html>
